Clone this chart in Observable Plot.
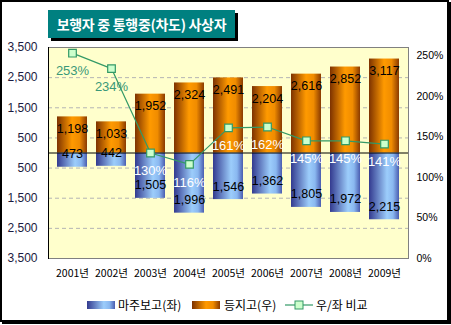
<!DOCTYPE html>
<html><head><meta charset="utf-8">
<script src="https://cdn.jsdelivr.net/npm/d3@7"></script>
<script src="https://cdn.jsdelivr.net/npm/@observablehq/plot@0.6"></script>
<style>
body{margin:0;background:#fff;}
#wrap{position:relative;width:451px;height:325px;overflow:hidden;background:#fff;}
#chart{position:absolute;left:0;top:0;}
#frame{position:absolute;left:0;top:0;width:449px;height:322px;box-sizing:border-box;border:2px solid #000;box-shadow:2px 2px 0 #000;pointer-events:none;}
#title{position:absolute;left:48px;top:10px;width:187px;height:28px;background:#008080;box-shadow:3px 3px 0 #000;color:#fff;font:bold 14px "Noto Sans CJK KR",sans-serif;display:flex;align-items:center;justify-content:center;white-space:nowrap;letter-spacing:-0.3px;}
.leg{position:absolute;top:297px;font:12px "Noto Sans CJK KR",sans-serif;color:#000;white-space:nowrap;line-height:16px;}
.sw{position:absolute;top:301px;width:28px;height:8px;}
</style>
</head><body>
<div id="wrap">
  <div id="chart"></div>
  <div id="title">보행자 중 통행중(차도) 사상자</div>
  <div class="sw" style="left:87px;background:linear-gradient(to right,#333a8f,#9ccdfb 60%,#8ab8f0 80%,#4a5db0);"></div>
  <div class="leg" style="left:118px;">마주보고(좌)</div>
  <div class="sw" style="left:192px;background:linear-gradient(to right,#7d3200,#ff9a00 50%,#f08c00 75%,#8a3a00);"></div>
  <div class="leg" style="left:224px;">등지고(우)</div>
  <svg class="sw" style="left:285px;top:298px;height:14px;width:28px;position:absolute;" viewBox="0 0 28 14"><line x1="0" y1="7" x2="28" y2="7" stroke="#339966" stroke-width="1.2"/><rect x="10" y="3" width="8" height="8" fill="#ccffcc" stroke="#339966"/></svg>
  <div class="leg" style="left:316px;">우/좌 비교</div>
  <div id="frame"></div>
</div>
<script>
const years = ["2001년","2002년","2003년","2004년","2005년","2006년","2007년","2008년","2009년"];
const facing = [473, 442, 1505, 1996, 1546, 1362, 1805, 1972, 2215];   // 마주보고(좌)
const back = [1198, 1033, 1952, 2324, 2491, 2204, 2616, 2852, 3117];   // 등지고(우)
const ratio = [253, 234, 130, 116, 161, 162, 145, 145, 141];           // 우/좌 비교 (%)
const leftTicks = [3500, 2500, 1500, 500, -500, -1500, -2500, -3500];
const gridTicks = [2500, 1500, 500, -500, -1500, -2500];
const rightTicks = [0, 50, 100, 150, 200, 250];

const R_MAX = 260; // right axis top (%)
const toY = p => -3500 + p / R_MAX * 7000;
const fromY = v => (v + 3500) / 7000 * R_MAX;

const rows = years.map((y, i) => ({year: y, facing: facing[i], back: back[i], ratio: ratio[i]}));
const fmt = d3.format(",");
const numFont = "Liberation Sans, Arial, sans-serif";

const chart = Plot.plot({
  width: 451, height: 325,
  marginTop: 47, marginBottom: 67, marginLeft: 48, marginRight: 43,
  style: {background: "transparent", fontFamily: numFont, overflow: "visible"},
  x: {domain: years, padding: 0.225, label: null},
  y: {domain: [-3500, 3500], label: null},
  marks: [
    Plot.frame({fill: "#ffffcc", stroke: "#808080"}),
    Plot.ruleY(gridTicks, {stroke: "#b4b4b4", strokeDasharray: "4,3"}),
    Plot.barY(rows, {x: "year", y1: 0, y2: d => -d.facing, fill: "url(#gBlue)"}),
    Plot.barY(rows, {x: "year", y1: 0, y2: d => d.back, fill: "url(#gOrange)"}),
    Plot.ruleY([0], {stroke: "#000", strokeWidth: 1}),
    Plot.frame({anchor: "left", stroke: "#000"}),
    Plot.text(rows, {x: "year", y: d => d.back, dy: 12, text: d => fmt(d.back), fill: "#000", fontSize: 12.5, fontFamily: numFont}),
    Plot.text(rows, {x: "year", y: d => -d.facing, dy: -13, text: d => fmt(d.facing), fill: "#000", fontSize: 12.5, fontFamily: numFont}),
    Plot.line(rows, {x: "year", y: d => toY(d.ratio), stroke: "#339966", strokeWidth: 1.2}),
    Plot.dot(rows, {x: "year", y: d => toY(d.ratio), symbol: "square", r: 4.3, fill: "#ccffcc", stroke: "#339966", strokeWidth: 1.2}),
    Plot.text(rows, {x: "year", y: d => toY(d.ratio), dy: 18, text: d => d.ratio + "%", fill: (d, i) => i < 2 ? "#3a9878" : "#ffffff", fontSize: 13, fontFamily: numFont}),
    Plot.axisY({anchor: "left", ticks: leftTicks, tickFormat: v => fmt(Math.abs(v)), tickSize: 0, tickPadding: 11, fontSize: 12, fontFamily: numFont, fill: "#1a1a40", label: null}),
    Plot.axisY({anchor: "right", ticks: rightTicks.map(toY), tickFormat: v => Math.round(fromY(v)) + "%", tickSize: 0, tickPadding: 8, fontSize: 10.5, fontFamily: numFont, fill: "#000", label: null}),
    Plot.axisX({tickSize: 0, tickPadding: 11, fontSize: 10.5, fontFamily: "Noto Sans CJK KR, sans-serif", fill: "#000", label: null})
  ]
});

const svg = d3.select(chart);
const defs = svg.insert("defs", ":first-child");
const gb = defs.append("linearGradient").attr("id", "gBlue").attr("x1", 0).attr("x2", 1).attr("y1", 0).attr("y2", 0);
[[0, "#333a8f"], [0.6, "#9ccdfb"], [0.8, "#8ab8f0"], [1, "#4a5db0"]].forEach(([o, c]) => gb.append("stop").attr("offset", o).attr("stop-color", c));
const go = defs.append("linearGradient").attr("id", "gOrange").attr("x1", 0).attr("x2", 1).attr("y1", 0).attr("y2", 0);
[[0, "#7d3200"], [0.5, "#ff9a00"], [0.75, "#f08c00"], [1, "#8a3a00"]].forEach(([o, c]) => go.append("stop").attr("offset", o).attr("stop-color", c));

document.getElementById("chart").appendChild(chart);
</script>
</body></html>
